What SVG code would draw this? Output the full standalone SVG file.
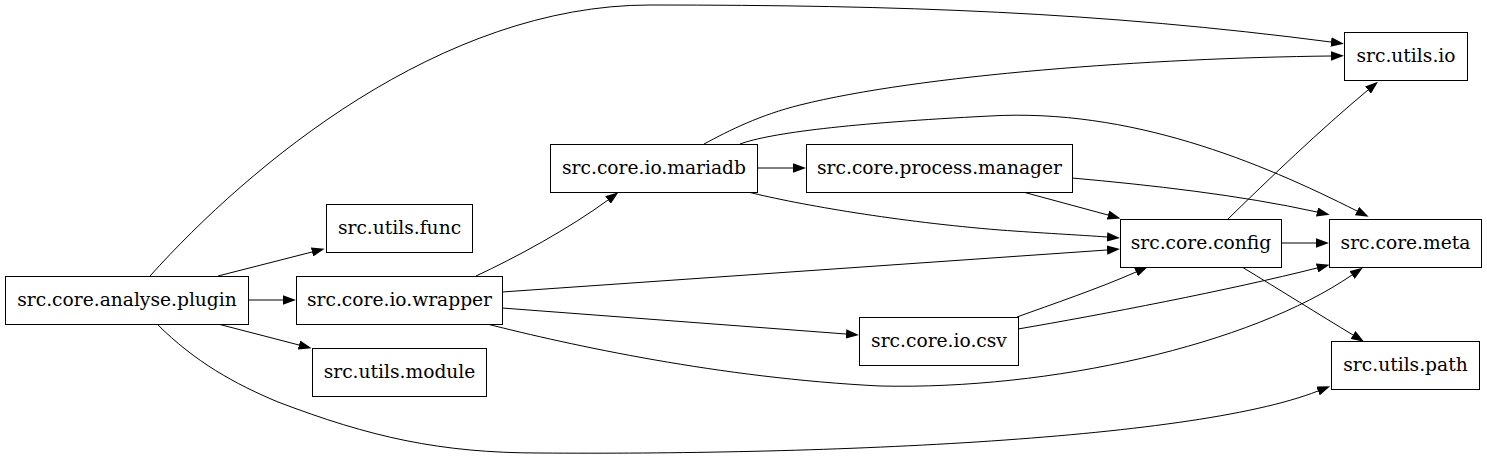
<svg xmlns="http://www.w3.org/2000/svg" width="1487" height="459" viewBox="0 0 1487 459">
<style>
.n rect{fill:#fff;stroke:#000;stroke-width:1}
.e path{fill:none;stroke:#000;stroke-width:1;marker-end:url(#a)}
.n text{font-family:"DejaVu Serif",serif;font-size:18.67px;text-anchor:middle;fill:#000}
</style>
<defs>
<marker id="a" viewBox="0 0 13 9.4" refX="0" refY="4.7" markerUnits="userSpaceOnUse" markerWidth="13" markerHeight="9.4" orient="auto">
<polygon points="0,0 13,4.7 0,9.4" fill="#000"/>
</marker>
</defs>
<rect width="1487" height="459" fill="#fff"/>
<g id="edges" class="e">
<path d="M150,276 C250,165 440,5 650,5 C900,5 1100,12 1331,42"/>
<path d="M218,276 L312,252"/>
<path d="M248,300 L283,300"/>
<path d="M218,324 L299,345"/>
<path d="M157,324 C195,362 235,384 278,402 C370,437 440,453 540,453 C800,455 1188,442 1318,391"/>
<path d="M476,276 C515,258 570,228 608,200"/>
<path d="M502,292 L1107,250"/>
<path d="M502,308 L846,334"/>
<path d="M487,324 C570,345 720,378 880,386 C1050,390 1250,345 1352,275"/>
<path d="M704,144 C730,130 760,115 800,105 C920,75 1150,58 1331,56"/>
<path d="M740,144 C770,133 850,123 990,116 C1130,108 1260,162 1357,211"/>
<path d="M757,168 L793,168"/>
<path d="M748,192 C800,205 900,222 1000,230 C1040,233 1080,235 1107,237"/>
<path d="M1023,192 L1108,215"/>
<path d="M1072,178 C1150,185 1240,195 1317,212"/>
<path d="M1228,219 C1270,178 1320,130 1368,90"/>
<path d="M1281,243 L1316,243"/>
<path d="M1242,267 C1280,290 1320,315 1353,335"/>
<path d="M1017,317 C1050,305 1100,288 1136,272"/>
<path d="M1018,329 C1100,315 1230,290 1317,268"/>
</g>
<g id="src.core.analyse.plugin" class="n"><rect x="5.5" y="276.5" width="243" height="48"/><text x="127" y="306">src.core.analyse.plugin</text></g>
<g id="src.utils.func" class="n"><rect x="326.5" y="204.5" width="146" height="48"/><text x="399.5" y="234">src.utils.func</text></g>
<g id="src.core.io.wrapper" class="n"><rect x="296.5" y="276.5" width="206" height="48"/><text x="399.5" y="306">src.core.io.wrapper</text></g>
<g id="src.utils.module" class="n"><rect x="312.5" y="348.5" width="174" height="48"/><text x="399.5" y="378">src.utils.module</text></g>
<g id="src.core.io.mariadb" class="n"><rect x="550.5" y="144.5" width="207" height="48"/><text x="654" y="174">src.core.io.mariadb</text></g>
<g id="src.core.process.manager" class="n"><rect x="806.5" y="144.5" width="266" height="48"/><text x="939.5" y="174">src.core.process.manager</text></g>
<g id="src.core.io.csv" class="n"><rect x="859.5" y="317.5" width="159" height="48"/><text x="939" y="347">src.core.io.csv</text></g>
<g id="src.core.config" class="n"><rect x="1120.5" y="219.5" width="161" height="48"/><text x="1201" y="249">src.core.config</text></g>
<g id="src.utils.io" class="n"><rect x="1344.5" y="32.5" width="123" height="48"/><text x="1406" y="62">src.utils.io</text></g>
<g id="src.core.meta" class="n"><rect x="1329.5" y="219.5" width="152" height="48"/><text x="1405.5" y="249">src.core.meta</text></g>
<g id="src.utils.path" class="n"><rect x="1331.5" y="341.5" width="148" height="48"/><text x="1405.5" y="371">src.utils.path</text></g>
</svg>
